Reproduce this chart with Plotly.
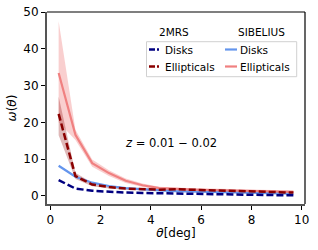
import plotly.graph_objects as go

# ---- data ----
theta = [0.333, 1.0, 1.667, 2.333, 3.0, 3.667, 4.333, 5.0, 5.667, 6.333, 7.0, 7.667, 8.333, 9.0, 9.667]

sib_ell = [33.4, 16.6, 8.9, 6.2, 4.1, 2.9, 2.1, 1.8, 1.7, 1.6, 1.5, 1.4, 1.3, 1.2, 1.1]
sib_ell_hi = [47.5, 18.0, 9.9, 7.0, 4.7, 3.4, 2.5, 2.2, 2.1, 2.0, 1.9, 1.8, 1.7, 1.6, 1.5]
sib_ell_lo = [20.0, 15.2, 7.9, 5.4, 3.5, 2.4, 1.7, 1.4, 1.3, 1.2, 1.1, 1.0, 0.9, 0.8, 0.7]

mrs_ell = [22.3, 5.4, 3.1, 2.4, 2.0, 1.8, 1.7, 1.8, 1.7, 1.5, 1.3, 1.2, 1.1, 1.0, 0.9]
mrs_ell_hi = [27.0, 6.3, 3.6, 2.8, 2.3, 2.1, 2.0, 2.1, 2.0, 1.8, 1.6, 1.5, 1.4, 1.3, 1.2]
mrs_ell_lo = [16.5, 4.6, 2.6, 2.0, 1.7, 1.5, 1.4, 1.5, 1.4, 1.2, 1.0, 0.9, 0.8, 0.7, 0.6]

sib_disk = [8.2, 5.2, 3.6, 2.7, 2.1, 1.7, 1.5, 1.3, 1.2, 1.1, 1.0, 0.9, 0.8, 0.7, 0.6]
mrs_disk = [4.3, 2.0, 1.4, 1.1, 0.9, 0.8, 0.7, 0.6, 0.5, 0.4, 0.35, 0.3, 0.25, 0.2, 0.2]

x_ticks = [0, 2, 4, 6, 8, 10]
y_ticks = [0, 10, 20, 30, 40, 50]
group_names = ["2MRS", "SIBELIUS"]
series_names = ["Disks", "Ellipticals"]
annotation_text = "<i>z</i> = 0.01 − 0.02"

C_NAVY = "#000080"
C_DARKRED = "#8B0000"
C_CORN = "#6495ED"
C_CORAL = "#F08080"

FONT = "DejaVu Sans"

fig = go.Figure()

def band(lo, hi, color):
    fig.add_trace(go.Scatter(x=theta, y=hi, mode="lines", line=dict(width=0),
                             hoverinfo="skip", showlegend=False))
    fig.add_trace(go.Scatter(x=theta, y=lo, mode="lines", line=dict(width=0),
                             fill="tonexty", fillcolor=color, hoverinfo="skip", showlegend=False))

band(sib_ell_lo, sib_ell_hi, "rgba(240,128,128,0.38)")
band(mrs_ell_lo, mrs_ell_hi, "rgba(139,0,0,0.28)")

fig.add_trace(go.Scatter(x=theta, y=sib_disk, mode="lines", line=dict(color=C_CORN, width=2.2),
                         name="SIBELIUS Disks", showlegend=False))
fig.add_trace(go.Scatter(x=theta, y=sib_ell, mode="lines", line=dict(color=C_CORAL, width=2.2),
                         name="SIBELIUS Ellipticals", showlegend=False))
fig.add_trace(go.Scatter(x=theta, y=mrs_disk, mode="lines",
                         line=dict(color=C_NAVY, width=2.5, dash="7px,3px"),
                         name="2MRS Disks", showlegend=False))
fig.add_trace(go.Scatter(x=theta, y=mrs_ell, mode="lines",
                         line=dict(color=C_DARKRED, width=2.5, dash="7px,3px"),
                         name="2MRS Ellipticals", showlegend=False))

# ---- layout geometry (pixels) ----
W, H = 318, 250
L, R, T, B = 47, 13, 12, 46
pw, ph = W - L - R, H - T - B

def px(xp):
    return (xp - L) / pw

def py(yp):
    return (H - B - yp) / ph

# legend frame
x0, x1, y0, y1 = px(146.5), px(296.7), py(76.7), py(41.7)
fig.add_shape(type="rect", xref="paper", yref="paper", x0=x0, x1=x1, y0=y0, y1=y1,
              line=dict(color="#d0d0d0", width=1), fillcolor="rgba(255,255,255,0.8)", layer="above")

# legend headers
for name, cx in zip(group_names, [173.5, 261.5]):
    fig.add_annotation(xref="paper", yref="paper", x=px(cx), y=py(32), text=name,
                       showarrow=False, font=dict(family=FONT, size=10.5, color="black"),
                       xanchor="center", yanchor="middle")

# legend entries
row_y = [49.5, 66.5]
colors = {("2MRS", 0): C_NAVY, ("2MRS", 1): C_DARKRED,
          ("SIBELIUS", 0): C_CORN, ("SIBELIUS", 1): C_CORAL}
cols = [(149, 159, 163, "dash"), (225, 237, 238, "solid")]
for gi, g in enumerate(group_names):
    lx0, lx1, tx, dsh = cols[gi]
    for si, s in enumerate(series_names):
        yy = py(row_y[si])
        fig.add_shape(type="line", xref="paper", yref="paper", x0=px(lx0), x1=px(lx1),
                      y0=yy, y1=yy, layer="above",
                      line=dict(color=colors[(g, si)], width=2.4 if dsh == "dash" else 2.2,
                                dash="6px,2px" if dsh == "dash" else "solid"))
        fig.add_annotation(xref="paper", yref="paper", x=px(tx), y=yy, text=s,
                           showarrow=False, font=dict(family=FONT, size=10.5, color="black"),
                           xanchor="left", yanchor="middle")

# z annotation
fig.add_annotation(x=4.8, y=14.4, text=annotation_text, showarrow=False,
                   font=dict(family=FONT, size=11.5, color="black"))

# top/right spines
fig.add_shape(type="line", xref="paper", yref="paper", x0=0, x1=1, y0=1, y1=1,
              line=dict(color="black", width=1.2))
fig.add_shape(type="line", xref="paper", yref="paper", x0=1, x1=1, y0=0, y1=1,
              line=dict(color="black", width=1.2))

fig.update_layout(
    width=W, height=H,
    margin=dict(l=L, r=R, t=T, b=B, autoexpand=False),
    plot_bgcolor="white", paper_bgcolor="white",
    showlegend=False,
    font=dict(family=FONT, size=12, color="black"),
    xaxis=dict(range=[-0.13, 10.13], tickvals=x_ticks, ticks="outside", ticklen=4,
               tickcolor="black", showgrid=False, zeroline=False, showline=True,
               linecolor="#555555", linewidth=2, automargin=False,
               title=dict(text="<i>θ</i>[deg]", standoff=2, font=dict(size=12)),
               tickfont=dict(size=12)),
    yaxis=dict(range=[-2.2, 50], tickvals=y_ticks, ticks="outside", ticklen=4,
               tickcolor="black", showgrid=False, zeroline=False, showline=True,
               linecolor="#555555", linewidth=2, automargin=False,
               title=dict(text="<i>ω</i>(<i>θ</i>)", standoff=4, font=dict(size=12)),
               tickfont=dict(size=12)),
)

fig.write_html("out.html",
               config={"displayModeBar": False, "staticPlot": True},
               post_script="document.body.style.margin='0';document.body.style.padding='0';"
                           "document.body.style.overflow='hidden';")
